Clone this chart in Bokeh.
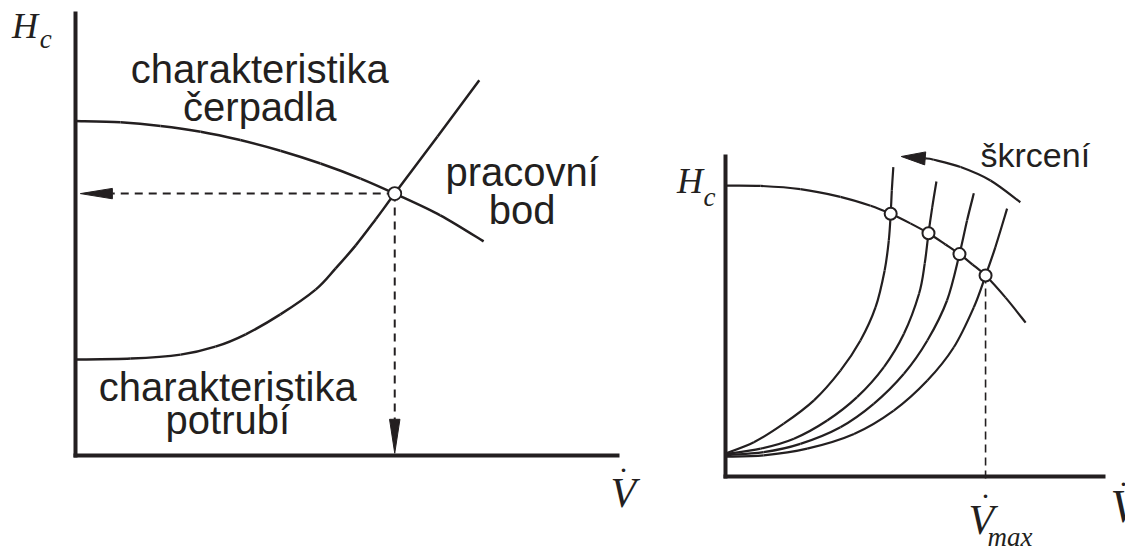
from math import hypot

from bokeh.embed import file_html
from bokeh.layouts import row
from bokeh.models import FixedTicker, Label, Range1d
from bokeh.plotting import figure
from bokeh.resources import INLINE

# ---------------- left panel: pump vs. pipe characteristic ----------------
pump_q = [0.0, 0.83, 1.57, 2.31, 3.04, 3.78, 4.52, 5.26, 5.89, 6.73, 7.53]
pump_h = [7.56, 7.53, 7.45, 7.32, 7.13, 6.89, 6.60, 6.26, 5.92, 5.43, 4.84]

pipe_q = [0.0, 1.02, 1.94, 2.58, 3.14, 3.78, 4.43, 4.80, 5.17, 5.54, 5.89, 6.68, 7.45]
pipe_h = [2.17, 2.19, 2.28, 2.46, 2.74, 3.19, 3.75, 4.23, 4.75, 5.34, 5.92, 7.21, 8.48]

work_q = 5.89
work_h = 5.92

# ---------------- right panel: throttling ----------------
pump2_q = [0.0, 0.93, 1.98, 3.04, 3.84, 4.37, 4.89, 5.37, 5.82, 6.19, 6.53, 6.88, 7.41, 7.94]
pump2_h = [9.09, 9.08, 8.98, 8.74, 8.46, 8.21, 7.91, 7.60, 7.25, 6.95, 6.63, 6.28, 5.59, 4.81]

throttle_q = [
    [0.0, 0.75, 1.54, 2.34, 3.04, 3.57, 3.97, 4.21, 4.32, 4.37, 4.40, 4.44],
    [0.0, 0.93, 1.81, 2.69, 3.48, 4.19, 4.72, 5.12, 5.27, 5.37, 5.47, 5.58],
    [0.0, 1.01, 1.98, 3.04, 3.92, 4.72, 5.34, 5.86, 6.19, 6.39, 6.57],
    [0.0, 1.01, 2.16, 3.40, 4.45, 5.34, 6.04, 6.57, 6.88, 7.14, 7.45],
]
throttle_h = [
    [0.72, 1.07, 1.65, 2.38, 3.31, 4.25, 5.29, 6.44, 7.38, 8.21, 8.94, 9.67],
    [0.70, 0.87, 1.18, 1.75, 2.48, 3.42, 4.46, 5.71, 6.65, 7.60, 8.42, 9.22],
    [0.67, 0.76, 1.02, 1.54, 2.27, 3.21, 4.25, 5.50, 6.95, 8.00, 8.85],
    [0.62, 0.66, 0.87, 1.33, 2.06, 3.00, 4.04, 5.29, 6.28, 7.17, 8.37],
]
points_q = [4.37, 5.37, 6.19, 6.88]
points_h = [8.21, 7.60, 6.95, 6.28]
vmax_q = 6.88

# curved "throttling" arrow
skr_q = [7.80, 7.01, 6.22, 5.51, 5.29]
skr_h = [8.57, 9.25, 9.67, 9.90, 9.94]
skr_tip = (4.65, 10.0)

SANS = "Liberation Sans"
SERIF = "Liberation Serif"
INK = "#231f20"
H = 548


def make_fig(width, sx, sy, ox, oy):
    """Figure whose frame fills the canvas; (ox, oy) is the pixel origin from
    the top-left corner, sx/sy are pixels per data unit."""
    p = figure(width=width, height=H,
               x_range=Range1d(-ox / sx, (width - ox) / sx),
               y_range=Range1d(-(H - oy) / sy, oy / sy),
               output_backend="svg", toolbar_location=None,
               min_border_left=0, min_border_right=0, min_border_top=0,
               min_border_bottom=0)
    p.grid.visible = False
    p.outline_line_color = None
    p.background_fill_color = "white"
    p.border_fill_color = "white"
    for ax in (p.xaxis[0], p.yaxis[0]):
        ax.ticker = FixedTicker(ticks=[])
        ax.fixed_location = 0
        ax.bounds = (0, 10)
        ax.axis_line_width = 4
        ax.axis_line_color = INK
        ax.axis_line_cap = "square"
        ax.major_tick_line_color = None
        ax.minor_tick_line_color = None
        ax.major_tick_in = 0
        ax.major_tick_out = 0
        ax.major_label_standoff = 0
        ax.major_label_text_font_size = "0px"
    return p


def smooth(p, xs, ys, **kw):
    """Draw a smooth (Catmull-Rom) curve through the given points."""
    n = len(xs)
    seg = {k: [] for k in ("x0", "y0", "x1", "y1", "cx0", "cy0", "cx1", "cy1")}
    for i in range(n - 1):
        a, d = max(i - 1, 0), min(i + 2, n - 1)
        seg["x0"].append(xs[i]); seg["y0"].append(ys[i])
        seg["x1"].append(xs[i + 1]); seg["y1"].append(ys[i + 1])
        seg["cx0"].append(xs[i] + (xs[i + 1] - xs[a]) / 6)
        seg["cy0"].append(ys[i] + (ys[i + 1] - ys[a]) / 6)
        seg["cx1"].append(xs[i + 1] - (xs[d] - xs[i]) / 6)
        seg["cy1"].append(ys[i + 1] - (ys[d] - ys[i]) / 6)
    p.bezier(**seg, line_color=INK, **kw)


def head(p, tip, tail, sx, sy, length, half):
    """Filled arrow head with its point at `tip`, pointing away from `tail`."""
    dx = (tip[0] - tail[0]) * sx
    dy = (tip[1] - tail[1]) * sy
    n = hypot(dx, dy)
    ux, uy = dx / n, dy / n
    bx, by = -ux * length, -uy * length
    nx, ny = -uy * half, ux * half
    xs = [tip[0], tip[0] + (bx + nx) / sx, tip[0] + (bx - nx) / sx]
    ys = [tip[1], tip[1] + (by + ny) / sy, tip[1] + (by - ny) / sy]
    p.patch(xs, ys, fill_color=INK, line_color=INK, line_width=1)
    return tip[0] + bx / sx, tip[1] + by / sy


def label(p, sy, x, y, text, font, size, style="normal", align="left"):
    # the label box bottom includes the font descent; lift it so y is the baseline
    px = float(size.rstrip("px"))
    p.add_layout(Label(x=x, y=y + 0.30 * px / sy, text=text, text_font=font,
                       text_font_size=size, text_font_style=style, text_align=align,
                       text_baseline="alphabetic", text_color=INK))


# ================= left figure =================
SX1, SY1 = 54.2, 44.24
p1 = make_fig(650, SX1, SY1, 75, 455)

smooth(p1, pump_q, pump_h, line_width=2.5)
smooth(p1, pipe_q, pipe_h, line_width=2.5)

# dashed projections of the operating point onto both axes
bx, by = head(p1, (0.09, work_h), (work_q, work_h), SX1, SY1, 32, 5.2)
p1.segment(x0=[work_q], y0=[work_h], x1=[bx], y1=[by], line_width=2,
           line_color=INK, line_dash="8 6")
bx, by = head(p1, (work_q, 0.05), (work_q, work_h), SX1, SY1, 34, 5.2)
p1.segment(x0=[work_q], y0=[work_h], x1=[bx], y1=[by], line_width=2,
           line_color=INK, line_dash="8 6")
p1.scatter([work_q], [work_h], size=13, fill_color="white", line_color=INK, line_width=1.8)

label(p1, SY1, 3.40, 8.454, "charakteristika", SANS, "40px", align="center")
label(p1, SY1, 3.40, 7.595, "čerpadla", SANS, "40px", align="center")
label(p1, SY1, 2.81, 1.277, "charakteristika", SANS, "40px", align="center")
label(p1, SY1, 2.81, 0.52, "potrubí", SANS, "40px", align="center")
label(p1, SY1, 8.24, 6.148, "pracovní", SANS, "40px", align="center")
label(p1, SY1, 8.24, 5.267, "bod", SANS, "40px", align="center")

label(p1, SY1, -1.17, 9.455, "H", SERIF, "36px", "italic")
label(p1, SY1, -0.66, 9.222, "c", SERIF, "27px", "italic")
label(p1, SY1, 9.87, -1.13, "V", SERIF, "42px", "italic")
label(p1, SY1, 10.11, -0.36, ".", SERIF, "30px", align="center")

# ================= right figure =================
SX2, SY2 = 37.8, 32.0
p2 = make_fig(475, SX2, SY2, 75, 476)

smooth(p2, pump2_q, pump2_h, line_width=2.2)
for q, h in zip(throttle_q, throttle_h):
    smooth(p2, q, h, line_width=2.2)

p2.segment(x0=[vmax_q], y0=[points_h[-1]], x1=[vmax_q], y1=[-0.18], line_width=1.6,
           line_color=INK, line_dash="8 5")
p2.scatter(points_q, points_h, size=12, fill_color="white", line_color=INK, line_width=2)

bx, by = head(p2, skr_tip, (skr_q[-1], skr_h[-1]), SX2, SY2, 24, 6.5)
smooth(p2, skr_q + [bx], skr_h + [by], line_width=2.2)
label(p2, SY2, 6.746, 9.719, "škrcení", SANS, "34px")

label(p2, SY2, -1.28, 8.884, "H", SERIF, "36px", "italic")
label(p2, SY2, -0.58, 8.469, "c", SERIF, "27px", "italic")
label(p2, SY2, 10.185, -1.375, "V", SERIF, "46px", "italic")
label(p2, SY2, 10.53, -0.28, ".", SERIF, "30px", align="center")
label(p2, SY2, 6.43, -1.75, "V", SERIF, "42px", "italic")
label(p2, SY2, vmax_q, -0.66, ".", SERIF, "30px", align="center")
label(p2, SY2, 6.93, -2.156, "max", SERIF, "27px", "italic")

layout = row(p1, p2)
open("out.html", "w").write(file_html(layout, INLINE))
